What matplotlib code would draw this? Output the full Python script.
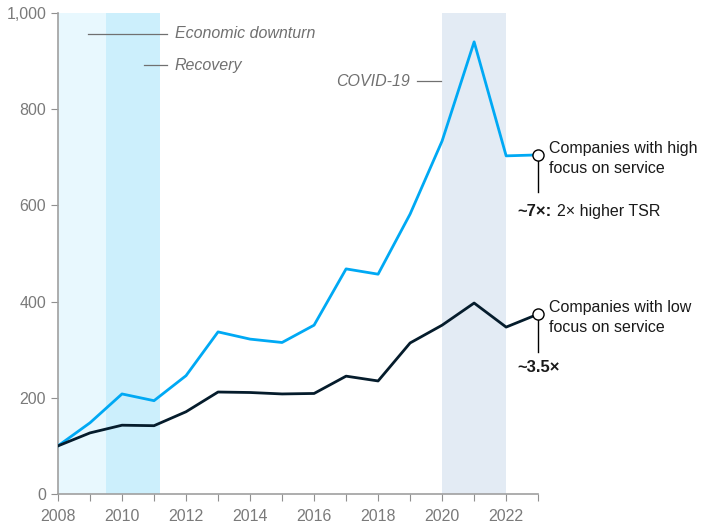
import matplotlib.pyplot as plt
from matplotlib.ticker import FuncFormatter

years = list(range(2008, 2024))
high_focus = [100, 148, 208, 194, 246, 337, 322, 315, 351, 468, 457, 582, 734, 940, 703, 705]
low_focus = [100, 127, 143, 142, 171, 212, 211, 208, 209, 245, 235, 314, 351, 397, 347, 374]

periods = [(2008, 2009.5, '#E8F8FE'), (2009.5, 2011.2, '#CCEFFC'), (2020, 2022, '#E3EBF4')]

plt.rcParams['font.family'] = ['Liberation Sans', 'DejaVu Sans']

fig = plt.figure(figsize=(7.02, 5.31), dpi=100)
ax = fig.add_axes([0.0826, 0.0697, 0.684, 0.9058])

for x0, x1, c in periods:
    ax.axvspan(x0, x1, color=c, lw=0, zorder=0)

ax.plot(years, high_focus, color='#00A9F4', lw=2, zorder=3)
ax.plot(years, low_focus, color='#051C2C', lw=2, zorder=3)

ax.set_xlim(2008, 2023)
ax.set_ylim(0, 1000)
ax.set_xticks(years)
ax.set_xticklabels([str(y) if y % 2 == 0 and y < 2023 else '' for y in years])
ax.set_yticks(range(0, 1001, 200))
ax.yaxis.set_major_formatter(FuncFormatter(lambda v, p: '{:,.0f}'.format(v)))

for s in ['top', 'right']:
    ax.spines[s].set_visible(False)
for s in ['left', 'bottom']:
    ax.spines[s].set_color('#A0A0A0')
    ax.spines[s].set_linewidth(1.2)
ax.tick_params(axis='both', colors='#909090', labelcolor='#7a7a7a', labelsize=11.5, length=5)
ax.tick_params(axis='x', pad=6)

# period annotations
grey = '#707070'
ax.plot([2008.95, 2011.4], [957, 957], color=grey, lw=0.9, clip_on=False)
ax.text(2011.65, 957, 'Economic downturn', style='italic', color=grey, fontsize=11.5, va='center')
ax.plot([2010.7, 2011.4], [891, 891], color=grey, lw=0.9, clip_on=False)
ax.text(2011.65, 891, 'Recovery', style='italic', color=grey, fontsize=11.5, va='center')
ax.plot([2019.2, 2019.95], [858, 858], color=grey, lw=0.9)
ax.text(2019.0, 858, 'COVID-19', style='italic', color=grey, fontsize=11.5, va='center', ha='right')

# end markers and labels
for vals, label, drop in [
        (high_focus, 'Companies with high\nfocus on service', 628),
        (low_focus, 'Companies with low\nfocus on service', 295)]:
    yend = vals[-1]
    ax.plot([2023], [yend], marker='o', ms=8, mfc='white', mec='black', mew=1.0,
            clip_on=False, zorder=5)
    ax.plot([2023, 2023], [yend - 10, drop], color='black', lw=1.0, clip_on=False, zorder=4)
    ax.text(2023.35, yend - 7, label, fontsize=11.5, color='#1a1a1a', va='center',
            linespacing=1.45)

t1 = ax.text(2022.35, 588, '~7\u00d7:', fontsize=12, fontweight='bold', color='#1a1a1a', va='center')
fig.canvas.draw()
bb = t1.get_window_extent(fig.canvas.get_renderer())
ax.annotate('2\u00d7 higher TSR', xy=(bb.x1, bb.y0 + bb.height / 2), xycoords='figure pixels',
            xytext=(4, 0), textcoords='offset points', fontsize=11.5, color='#1a1a1a', va='center')
ax.text(2022.35, 262, '~3.5\u00d7', fontsize=12, fontweight='bold', color='#1a1a1a', va='center')

fig.savefig('out.png', dpi=100)
